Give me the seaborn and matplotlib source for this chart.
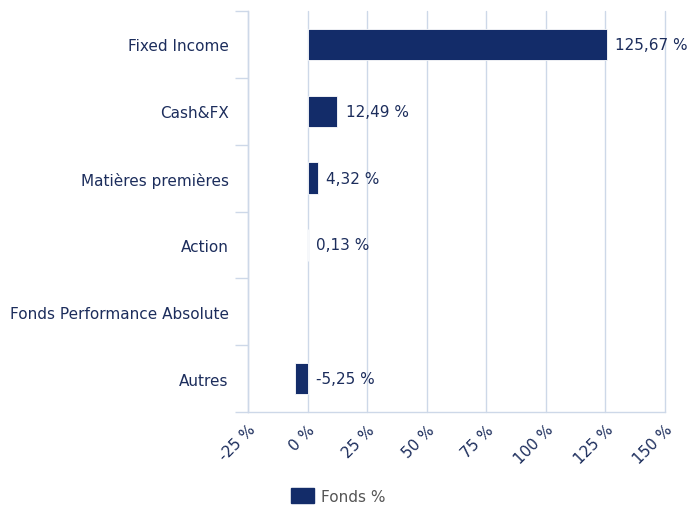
import matplotlib
matplotlib.use("Agg")
import matplotlib.pyplot as plt
import seaborn as sns
import numpy as np
import pandas as pd
from matplotlib.patches import Patch

categories = ["Fixed Income", "Cash&FX", "Matières premières", "Action",
              "Fonds Performance Absolute", "Autres"]
values = [125.67, 12.49, 4.32, 0.13, np.nan, -5.25]
xticks = [-25, 0, 25, 50, 75, 100, 125, 150]
series_name = "Fonds %"

bar_color = "#132c69"
text_color = "#1c2d5c"
grid_color = "#cdd8e8"
fs = 11

sns.set_theme(style="white")
plt.rcParams['font.family'] = ['DejaVu Sans']

fig = plt.figure(figsize=(6.9, 5.06), dpi=100)
ax = fig.add_axes([248/690, 1-413/506, (665-248)/690, (413-12)/506])

df = pd.DataFrame({"cat": categories, "val": values}).dropna()
sns.barplot(data=df, x="val", y="cat", order=categories, orient="h",
            color=bar_color, saturation=1, width=0.47, ax=ax,
            edgecolor="white", linewidth=0.6)

ax.set_xlim(-25, 150)
ax.set_ylim(len(categories) - 0.5, -0.5)
ax.set_xticks(xticks)
ax.set_xticklabels([f"{t} %" for t in xticks], rotation=45, ha="right",
                   rotation_mode="anchor", color=text_color, fontsize=fs)
ax.tick_params(axis="x", length=0, pad=7)
ax.set_xlabel("")
ax.set_ylabel("")

ax.set_yticks(range(len(categories)))
ax.set_yticklabels(categories, color=text_color, fontsize=fs)
ax.set_yticks(np.arange(-0.5, len(categories), 1), minor=True)
ax.tick_params(axis="y", which="major", length=0, pad=14)
ax.tick_params(axis="y", which="minor", length=9.5, width=1, color=grid_color, left=True)

ax.grid(axis="x", color=grid_color, linewidth=1)
for gl in ax.get_xgridlines():
    gl.set_clip_on(False)
ax.set_axisbelow(True)
for s in ["top", "right"]:
    ax.spines[s].set_visible(False)
for s in ["left", "bottom"]:
    ax.spines[s].set_color(grid_color)
    ax.spines[s].set_linewidth(1)

for i, v in enumerate(values):
    if np.isnan(v):
        continue
    x = max(v, 0)
    ax.annotate(f"{v:.2f} %".replace(".", ","), xy=(x, i), xytext=(6, 0),
                textcoords="offset points", va="center", ha="left",
                color=text_color, fontsize=fs)

fig.legend(handles=[Patch(facecolor=bar_color, edgecolor=bar_color)],
           labels=[series_name], loc="center", bbox_to_anchor=(0.49, 0.018),
           frameon=False, handlelength=1.55, handleheight=1.1, fontsize=fs,
           labelcolor="#555555", handletextpad=0.45)

fig.savefig("out.png", dpi=100)
